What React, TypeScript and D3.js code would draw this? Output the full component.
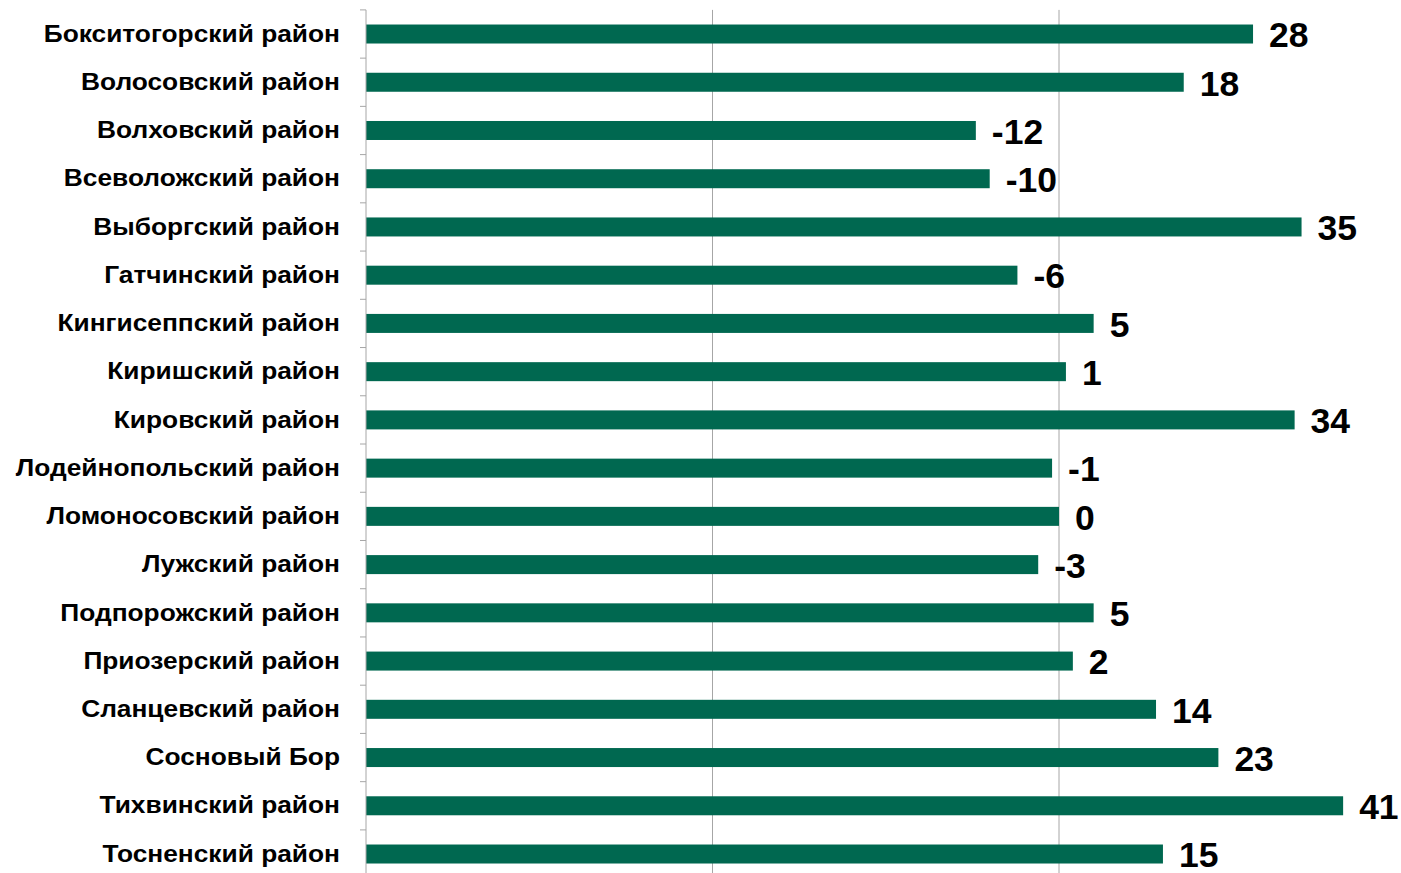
import React from "react";
import * as d3 from "d3";

const categories = [
  "Бокситогорский район",
  "Волосовский район",
  "Волховский район",
  "Всеволожский район",
  "Выборгский район",
  "Гатчинский район",
  "Кингисеппский район",
  "Киришский район",
  "Кировский район",
  "Лодейнопольский район",
  "Ломоносовский район",
  "Лужский район",
  "Подпорожский район",
  "Приозерский район",
  "Сланцевский район",
  "Сосновый Бор",
  "Тихвинский район",
  "Тосненский район",
];
const values = [28, 18, -12, -10, 35, -6, 5, 1, 34, -1, 0, -3, 5, 2, 14, 23, 41, 15];
const gridTicks = [-100, -50, 0];

const W = 1401;
const H = 873;
const left = 366;
const top = 9.9;
const band = 48.235;
const bottom = top + band * categories.length;

export default function App() {
  const x = d3.scaleLinear().domain([-100, 50]).range([left, left + 150 * 6.93]);
  const font = "'Liberation Sans', Arial, sans-serif";
  return (
    <svg width={W} height={H} style={{ position: "absolute", left: 0, top: 0, background: "#fff" }} fontFamily={font}>
      {gridTicks.slice(1).map((t) => (
        <line key={t} x1={x(t)} x2={x(t)} y1={top} y2={bottom} stroke="#a6a6a6" strokeWidth={1} />
      ))}
      {categories.map((c, i) => {
        const yc = top + band * (i + 0.5);
        const v = values[i];
        const xe = x(v);
        return (
          <g key={c}>
            <rect x={x(-100)} y={yc - 9.5} width={xe - x(-100)} height={19} fill="#006850" />
            <text
              transform={`translate(340,${yc + 7.7}) scale(1.125,1)`}
              textAnchor="end"
              fontSize={23.4}
              fontWeight="bold"
              fill="#000"
            >
              {c}
            </text>
            <text x={xe + 16} y={yc + 13.3} fontSize={35.5} fontWeight="bold" fill="#000">
              {v}
            </text>
          </g>
        );
      })}
      <line x1={left} x2={left} y1={top} y2={bottom} stroke="#a6a6a6" strokeWidth={1} />
      {d3.range(categories.length + 1).map((i) => (
        <line key={i} x1={left - 6} x2={left} y1={top + band * i} y2={top + band * i} stroke="#a6a6a6" strokeWidth={1} />
      ))}
    </svg>
  );
}
